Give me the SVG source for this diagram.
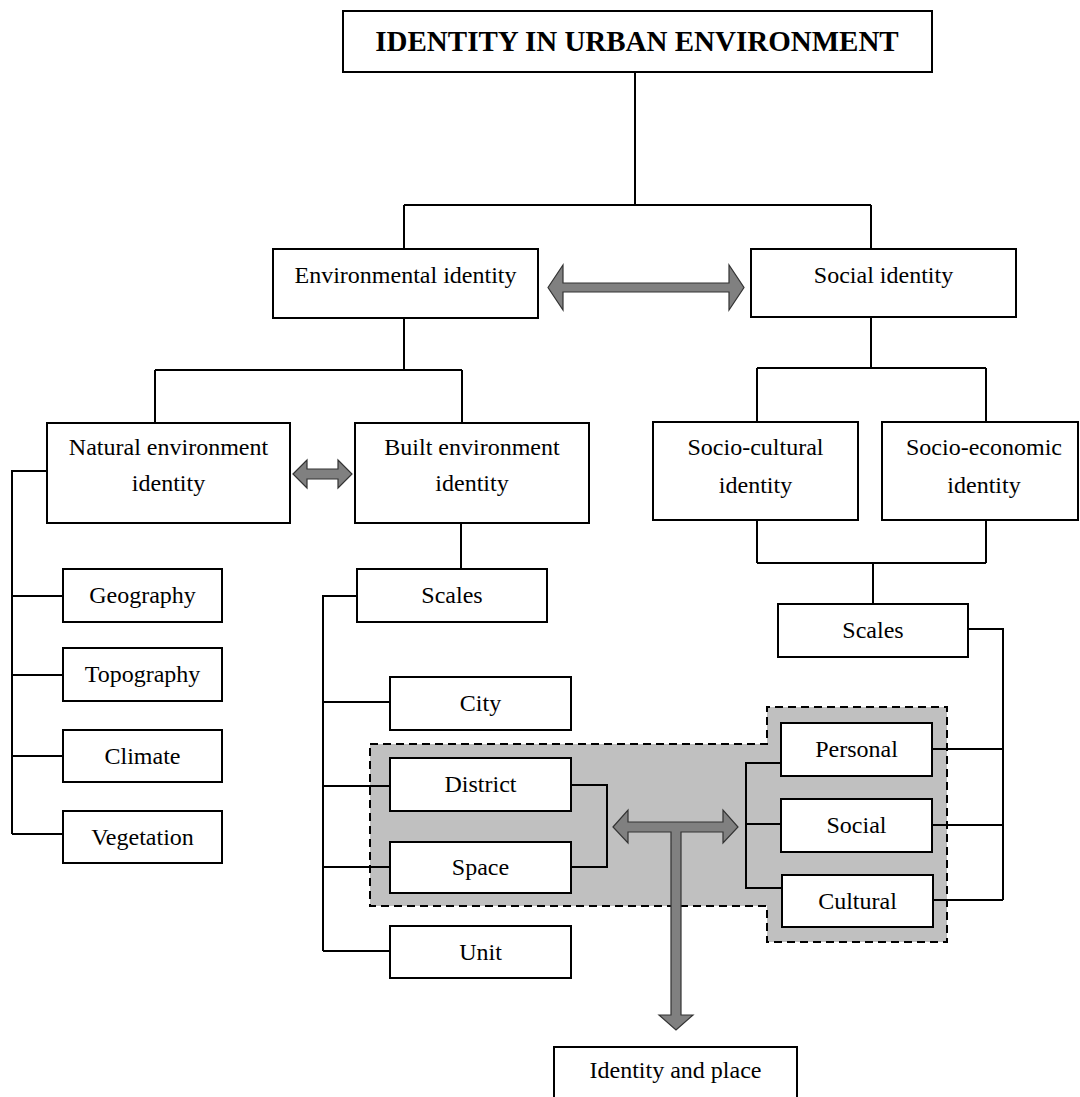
<svg xmlns="http://www.w3.org/2000/svg" width="1080" height="1097" viewBox="0 0 1080 1097">
<style>
.box{fill:#fff;stroke:#000;stroke-width:2}
.t{font-family:"Liberation Serif","Times New Roman",serif;font-size:24px;fill:#000;text-anchor:middle}
.title{font-family:"Liberation Serif","Times New Roman",serif;font-size:29px;font-weight:bold;fill:#000;text-anchor:middle}
.ln{fill:none;stroke:#000;stroke-width:2}
.arr{fill:#808080;stroke:#333;stroke-width:1.2;stroke-linejoin:miter}
</style>
<rect width="1080" height="1097" fill="#fff"/>
<g id="grey-region">
<polygon points="370,744 767,744 767,707 947,707 947,942 767,942 767,906 370,906" fill="#c0c0c0" stroke="#000" stroke-width="2" stroke-dasharray="8,5"/>
</g>
<g id="connectors">
<path class="ln" d="M635,72 V205 M404,205 H871 M404,205 V249 M871,205 V249"/>
<path class="ln" d="M404,318 V370 M155,370 H462 M155,370 V423 M462,370 V423"/>
<path class="ln" d="M871,317 V368 M757,368 H986 M757,368 V422 M986,368 V422"/>
<path class="ln" d="M757,520 V563 M986,520 V563 M757,563 H986 M873,563 V604"/>
<path class="ln" d="M47,471 H12 V834 M12,596 H63 M12,675 H63 M12,756 H63 M12,834 H63"/>
<path class="ln" d="M461,523 V569"/>
<path class="ln" d="M357,596 H323 V951 M323,702 H390 M323,786 H390 M323,867 H390 M323,951 H390"/>
<path class="ln" d="M571,785 H607 V867 H571"/>
<path class="ln" d="M781,763 H746 V888 H782 M746,824 H781"/>
<path class="ln" d="M968,629 H1003 V900 M932,749 H1003 M932,825 H1003 M933,900 H1003"/>
<polygon class="arr" points="548,287.5 563,265 563,283 729,283 729,265 744,287.5 729,310 729,292 563,292 563,310"/>
<polygon class="arr" points="293,474 307,460 307,469 338,469 338,460 352,474 338,488 338,479 307,479 307,488"/>
<polygon class="arr" points="613,827 628,810 628,822 723,822 723,810 738,827 723,843 723,832 681,832 681,1015 693,1015 676,1030 659,1015 671,1015 671,832 628,832 628,843"/>
</g>
<g id="title">
<rect class="box" x="343" y="11" width="589" height="61"/>
<text class="title" x="637" y="51">IDENTITY IN URBAN ENVIRONMENT</text>
</g>
<g id="environmental-identity">
<rect class="box" x="273" y="249" width="265" height="69"/>
<text class="t" x="405.5" y="283">Environmental identity</text>
</g>
<g id="social-identity">
<rect class="box" x="751" y="249" width="265" height="68"/>
<text class="t" x="883.5" y="283">Social identity</text>
</g>
<g id="natural-environment-identity">
<rect class="box" x="47" y="423" width="243" height="100"/>
<text class="t" x="168.5" y="455">Natural environment</text>
<text class="t" x="168.5" y="491">identity</text>
</g>
<g id="built-environment-identity">
<rect class="box" x="355" y="423" width="234" height="100"/>
<text class="t" x="472" y="455">Built environment</text>
<text class="t" x="472" y="491">identity</text>
</g>
<g id="socio-cultural-identity">
<rect class="box" x="653" y="422" width="205" height="98"/>
<text class="t" x="755.5" y="455">Socio-cultural</text>
<text class="t" x="755.5" y="493">identity</text>
</g>
<g id="socio-economic-identity">
<rect class="box" x="882" y="422" width="196" height="98"/>
<text class="t" x="984" y="455">Socio-economic</text>
<text class="t" x="984" y="493">identity</text>
</g>
<g id="geography">
<rect class="box" x="63" y="569" width="159" height="53"/>
<text class="t" x="142.5" y="603">Geography</text>
</g>
<g id="topography">
<rect class="box" x="63" y="648" width="159" height="53"/>
<text class="t" x="142.5" y="682">Topography</text>
</g>
<g id="climate">
<rect class="box" x="63" y="730" width="159" height="52"/>
<text class="t" x="142.5" y="764">Climate</text>
</g>
<g id="vegetation">
<rect class="box" x="63" y="811" width="159" height="52"/>
<text class="t" x="142.5" y="845">Vegetation</text>
</g>
<g id="scales-built">
<rect class="box" x="357" y="569" width="190" height="53"/>
<text class="t" x="452" y="603">Scales</text>
</g>
<g id="scales-social">
<rect class="box" x="778" y="604" width="190" height="53"/>
<text class="t" x="873" y="638">Scales</text>
</g>
<g id="city">
<rect class="box" x="390" y="677" width="181" height="53"/>
<text class="t" x="480.5" y="711">City</text>
</g>
<g id="district">
<rect class="box" x="390" y="758" width="181" height="53"/>
<text class="t" x="480.5" y="792">District</text>
</g>
<g id="space">
<rect class="box" x="390" y="842" width="181" height="51"/>
<text class="t" x="480.5" y="875">Space</text>
</g>
<g id="unit">
<rect class="box" x="390" y="926" width="181" height="52"/>
<text class="t" x="480.5" y="960">Unit</text>
</g>
<g id="personal">
<rect class="box" x="781" y="723" width="151" height="53"/>
<text class="t" x="856.5" y="757">Personal</text>
</g>
<g id="social">
<rect class="box" x="781" y="799" width="151" height="53"/>
<text class="t" x="856.5" y="833">Social</text>
</g>
<g id="cultural">
<rect class="box" x="782" y="875" width="151" height="52"/>
<text class="t" x="857.5" y="909">Cultural</text>
</g>
<g id="identity-and-place">
<rect class="box" x="554" y="1047" width="243" height="60"/>
<text class="t" x="675.5" y="1078">Identity and place</text>
</g>
</svg>
